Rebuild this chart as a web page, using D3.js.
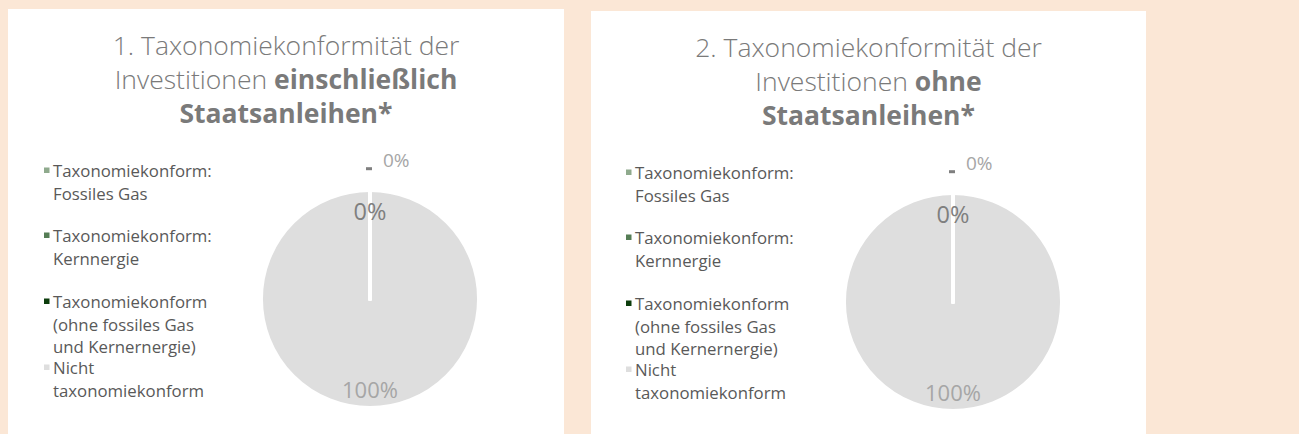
<!DOCTYPE html>
<html><head><meta charset="utf-8">
<script src="https://cdn.jsdelivr.net/npm/d3@7"></script>
<style>
html,body{margin:0;padding:0;background:#fbe7d6;}
svg{display:block;font-family:"Open Sans","Segoe UI",sans-serif;}
</style></head>
<body>
<svg id="chart" width="1299" height="434"></svg>
<script>
// ---- data ----
const categories = [
  ["Taxonomiekonform:", "Fossiles Gas"],
  ["Taxonomiekonform:", "Kernnergie"],
  ["Taxonomiekonform", "(ohne fossiles Gas", "und Kernernergie)"],
  ["Nicht", "taxonomiekonform"]
];
const colors = ["#8faa8d", "#557d55", "#0c3d0c", "#dedede"];
const values1 = [0, 0, 0, 100];
const values2 = [0, 0, 0, 100];
const titles1 = [[["1. Taxonomiekonformität der", false]], [["Investitionen ", false], ["einschließlich", true]], [["Staatsanleihen*", true]]];
const titles2 = [[["2. Taxonomiekonformität der", false]], [["Investitionen ", false], ["ohne", true]], [["Staatsanleihen*", true]]];
const labelMode = ["none", "outside", "inside", "inside"];

const svg = d3.select("#chart");

const panels = [
  {x: 8, y: 9, w: 556, values: values1, titles: titles1, cx: 370, cy: 299, legX: 53, legY: 0},
  {x: 591, y: 11, w: 555, values: values2, titles: titles2, cx: 953, cy: 302, legX: 635, legY: 2}
];

const legendBase = [177, 242, 308, 374];
const lineH = 22.5;

panels.forEach(p => {
  svg.append("rect").attr("x", p.x).attr("y", p.y).attr("width", p.w).attr("height", 434 - p.y).attr("fill", "#ffffff");

  // title
  const tcx = p.x + p.w / 2;
  p.titles.forEach((line, i) => {
    const t = svg.append("text").attr("x", tcx).attr("y", 55 + p.legY + i * 34)
      .attr("text-anchor", "middle").attr("font-size", 26.5).attr("fill", "#7a7a7a");
    line.forEach(seg => {
      t.append("tspan").text(seg[0]).attr("font-weight", seg[1] ? 700 : 300);
    });
  });

  // legend
  categories.forEach((lines, i) => {
    const by = legendBase[i] + p.legY;
    svg.append("rect").attr("x", p.legX - 9).attr("y", by - 9.5).attr("width", 5.5).attr("height", 5.5).attr("fill", colors[i]);
    lines.forEach((ln, j) => {
      svg.append("text").attr("x", p.legX).attr("y", by + j * lineH)
        .attr("font-size", 16.8).attr("fill", "#595959").text(ln);
    });
  });

  // pie
  const r = 109;
  const pie = d3.pie().sort(null).value(d => d);
  const arcs = pie(p.values);
  const arc = d3.arc().innerRadius(0).outerRadius(r);
  const g = svg.append("g").attr("transform", `translate(${p.cx},${p.cy})`);
  g.selectAll("path").data(arcs).join("path")
    .attr("d", arc)
    .attr("fill", (d, i) => colors[i])
    .attr("stroke", "#ffffff").attr("stroke-width", 4).attr("stroke-linejoin", "round");
  // slice separators (radial edges)
  g.selectAll("line.sep").data(arcs).join("line").attr("class", "sep")
    .attr("x1", 0).attr("y1", 0)
    .attr("x2", d => d3.pointRadial(d.startAngle, r)[0])
    .attr("y2", d => d3.pointRadial(d.startAngle, r)[1])
    .attr("stroke", "#ffffff").attr("stroke-width", 4).attr("stroke-linecap", "round");

  const inArc = d3.arc().innerRadius(r * 0.8).outerRadius(r * 0.8);
  const bigArc = d3.arc().innerRadius(r * 0.85).outerRadius(r * 0.85);
  const outArc = d3.arc().innerRadius(r * 1.2).outerRadius(r * 1.2);
  arcs.forEach((d, i) => {
    const txt = d3.format(".0%")(d.value / d3.sum(p.values));
    if (labelMode[i] === "outside") {
      const [x, y] = outArc.centroid(d);
      g.append("rect").attr("x", x - 4).attr("y", y - 1).attr("width", 6).attr("height", 3).attr("fill", "#7f7f7f");
      g.append("text").attr("x", x + 13).attr("y", y - 1).attr("font-size", 19).attr("fill", "#a6a6a6").text(txt);
    } else if (labelMode[i] === "inside") {
      const big = d.value > 0;
      const [x, y] = (big ? bigArc : inArc).centroid(d);
      g.append("text").attr("x", x).attr("y", y + (big ? 6 : 8))
        .attr("text-anchor", "middle").attr("font-size", big ? 22 : 23.5)
        .attr("fill", big ? "#a6a6a6" : "#7f7f7f").text(txt);
    }
  });
});
</script>
</body></html>
